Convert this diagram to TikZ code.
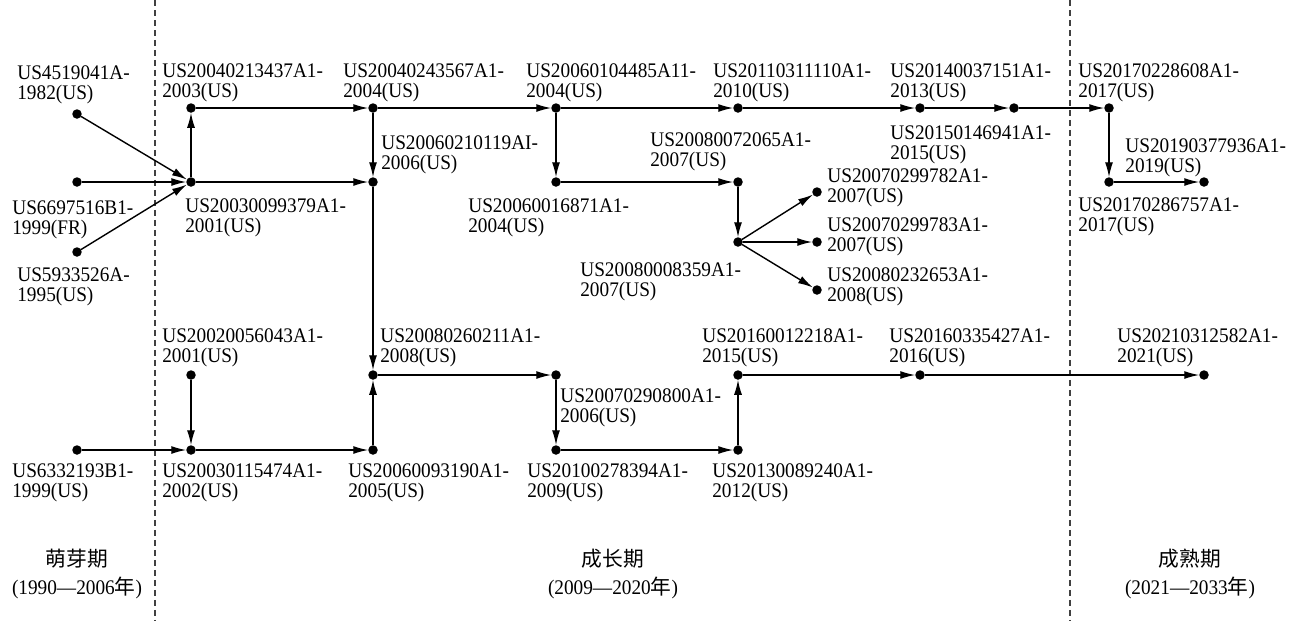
\documentclass[tikz,border=0pt]{standalone}
\usepackage{fontspec}
\setmainfont{Liberation Serif}[FakeStretch=0.93]
\newfontfamily\cjk{Noto Sans CJK SC}
\usetikzlibrary{arrows.meta}
\begin{document}
\begin{tikzpicture}[x=0.02cm,y=-0.02cm,
        dot/.style={circle,fill=black,minimum size=1.9mm,inner sep=0pt,
            outer sep=0pt},
        pat/.style={inner sep=0pt,anchor=north west,align=left,
            font=\fontsize{11.8}{11.8}\selectfont},
        phase/.style={inner sep=0pt,align=center,
            font=\fontsize{11.8}{15.6}\selectfont},
        arr/.style={-{Latex[length=3mm,width=1.6mm]},line width=0.8pt},
        sep/.style={dash pattern=on 1.2mm off 0.8mm,line width=0.6pt,
            black!75}]
\useasboundingbox (0,0) rectangle (1309,620);

% stage borders
\draw[sep] (155,0) -- (155,620);
\draw[sep] (1070,0) -- (1070,620);

% patents
\node[dot] (p4519041) at (77,114) {};
\node[pat] (t4519041) at (17,65) {US4519041A-\\1982(US)};
\node[dot] (p6697516) at (77,182) {};
\node[pat] (t6697516) at (12,200) {US6697516B1-\\1999(FR)};
\node[dot] (p5933526) at (77,252) {};
\node[pat] (t5933526) at (17,267) {US5933526A-\\1995(US)};
\node[dot] (p20030099379) at (191,182) {};
\node[pat] (t20030099379) at (185,198) {US20030099379A1-\\2001(US)};
\node[dot] (p20040213437) at (191,108) {};
\node[pat] (t20040213437) at (162,63) {US20040213437A1-\\2003(US)};
\node[dot] (p20040243567) at (373,108) {};
\node[pat] (t20040243567) at (343,63) {US20040243567A1-\\2004(US)};
\node[dot] (p20060210119) at (373,182) {};
\node[pat] (t20060210119) at (381,135) {US20060210119AI-\\2006(US)};
\node[dot] (p20060104485) at (556,108) {};
\node[pat] (t20060104485) at (526,63) {US20060104485A11-\\2004(US)};
\node[dot] (p20110311110) at (738,108) {};
\node[pat] (t20110311110) at (713,63) {US20110311110A1-\\2010(US)};
\node[dot] (p20060016871) at (556,182) {};
\node[pat] (t20060016871) at (468,198) {US20060016871A1-\\2004(US)};
\node[dot] (p20080072065) at (738,182) {};
\node[pat] (t20080072065) at (650,132) {US20080072065A1-\\2007(US)};
\node[dot] (p20080008359) at (738,242) {};
\node[pat] (t20080008359) at (580,262) {US20080008359A1-\\2007(US)};
\node[dot] (p20070299782) at (817,192) {};
\node[pat] (t20070299782) at (827,168) {US20070299782A1-\\2007(US)};
\node[dot] (p20070299783) at (817,242) {};
\node[pat] (t20070299783) at (827,217) {US20070299783A1-\\2007(US)};
\node[dot] (p20080232653) at (817,290) {};
\node[pat] (t20080232653) at (827,267) {US20080232653A1-\\2008(US)};
\node[dot] (p20140037151) at (920,108) {};
\node[pat] (t20140037151) at (890,63) {US20140037151A1-\\2013(US)};
\node[dot] (p20150146941) at (1014,108) {};
\node[pat] (t20150146941) at (890,125) {US20150146941A1-\\2015(US)};
\node[dot] (p20170228608) at (1109,108) {};
\node[pat] (t20170228608) at (1078,63) {US20170228608A1-\\2017(US)};
\node[dot] (p20170286757) at (1109,182) {};
\node[pat] (t20170286757) at (1078,197) {US20170286757A1-\\2017(US)};
\node[dot] (p20190377936) at (1204,182) {};
\node[pat] (t20190377936) at (1125,138) {US20190377936A1-\\2019(US)};
\node[dot] (p20020056043) at (191,375) {};
\node[pat] (t20020056043) at (162,328) {US20020056043A1-\\2001(US)};
\node[dot] (p6332193) at (77,450) {};
\node[pat] (t6332193) at (12,463) {US6332193B1-\\1999(US)};
\node[dot] (p20030115474) at (191,450) {};
\node[pat] (t20030115474) at (162,463) {US20030115474A1-\\2002(US)};
\node[dot] (p20060093190) at (373,450) {};
\node[pat] (t20060093190) at (348,463) {US20060093190A1-\\2005(US)};
\node[dot] (p20080260211) at (373,375) {};
\node[pat] (t20080260211) at (380,328) {US20080260211A1-\\2008(US)};
\node[dot] (p20070290800) at (556,375) {};
\node[pat] (t20070290800) at (560,388) {US20070290800A1-\\2006(US)};
\node[dot] (p20100278394) at (556,450) {};
\node[pat] (t20100278394) at (527,463) {US20100278394A1-\\2009(US)};
\node[dot] (p20130089240) at (738,450) {};
\node[pat] (t20130089240) at (712,463) {US20130089240A1-\\2012(US)};
\node[dot] (p20160012218) at (738,375) {};
\node[pat] (t20160012218) at (702,328) {US20160012218A1-\\2015(US)};
\node[dot] (p20160335427) at (920,375) {};
\node[pat] (t20160335427) at (889,328) {US20160335427A1-\\2016(US)};
\node[dot] (p20210312582) at (1204,375) {};
\node[pat] (t20210312582) at (1117,328) {US20210312582A1-\\2021(US)};

% citations
\draw[arr] (p4519041) -- (p20030099379);
\draw[arr] (p6697516) -- (p20030099379);
\draw[arr] (p5933526) -- (p20030099379);
\draw[arr] (p20030099379) -- (p20040213437);
\draw[arr] (p20030099379) -- (p20060210119);
\draw[arr] (p20040213437) -- (p20040243567);
\draw[arr] (p20040243567) -- (p20060210119);
\draw[arr] (p20040243567) -- (p20060104485);
\draw[arr] (p20060104485) -- (p20110311110);
\draw[arr] (p20060104485) -- (p20060016871);
\draw[arr] (p20110311110) -- (p20140037151);
\draw[arr] (p20140037151) -- (p20150146941);
\draw[arr] (p20150146941) -- (p20170228608);
\draw[arr] (p20170228608) -- (p20170286757);
\draw[arr] (p20170286757) -- (p20190377936);
\draw[arr] (p20060016871) -- (p20080072065);
\draw[arr] (p20080072065) -- (p20080008359);
\draw[arr] (p20080008359) -- (p20070299782);
\draw[arr] (p20080008359) -- (p20070299783);
\draw[arr] (p20080008359) -- (p20080232653);
\draw[arr] (p20060210119) -- (p20080260211);
\draw[arr] (p20020056043) -- (p20030115474);
\draw[arr] (p6332193) -- (p20030115474);
\draw[arr] (p20030115474) -- (p20060093190);
\draw[arr] (p20060093190) -- (p20080260211);
\draw[arr] (p20080260211) -- (p20070290800);
\draw[arr] (p20070290800) -- (p20100278394);
\draw[arr] (p20100278394) -- (p20130089240);
\draw[arr] (p20130089240) -- (p20160012218);
\draw[arr] (p20160012218) -- (p20160335427);
\draw[arr] (p20160335427) -- (p20210312582);

% stages
\node[phase] (germ) at (77,574) {{\cjk 萌芽期}\\(1990—2006{\cjk 年})};
\node[phase] (grow) at (613,574) {{\cjk 成长期}\\(2009—2020{\cjk 年})};
\node[phase] (mature) at (1190,574) {{\cjk 成熟期}\\(2021—2033{\cjk 年})};
\end{tikzpicture}
\end{document}
